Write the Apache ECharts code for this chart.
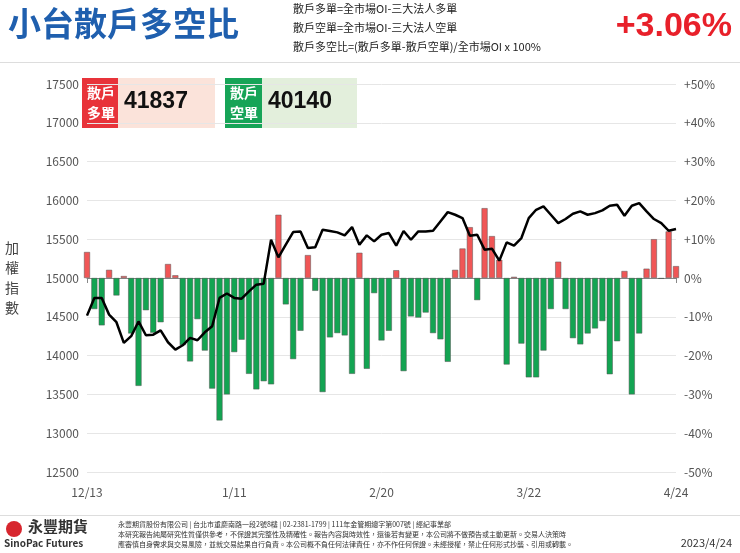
<!DOCTYPE html>
<html><head><meta charset="utf-8">
<script src="https://cdn.jsdelivr.net/npm/echarts@6/dist/echarts.min.js"></script>
<style>html,body{margin:0;padding:0;background:#fff}#c{width:740px;height:553px}</style>
</head><body><div id="c"></div>
<script>
const dates = ['12/13','12/14','12/15','12/16','12/19','12/20','12/21','12/22','12/23','12/26','12/27','12/28','12/29','12/30',
  '1/3','1/4','1/5','1/6','1/9','1/10','1/11','1/12','1/13','1/16','1/17','1/30','1/31',
  '2/1','2/2','2/3','2/6','2/7','2/8','2/9','2/10','2/13','2/14','2/15','2/16','2/17','2/20',
  '2/21','2/22','2/23','2/24','3/1','3/2','3/3','3/6','3/7','3/8','3/9','3/10','3/13','3/14','3/15','3/16','3/17','3/20','3/21','3/22',
  '3/23','3/24','3/27','3/28','3/29','3/30','3/31','4/6','4/7','4/10','4/11','4/12','4/13','4/14','4/17','4/18','4/19','4/20','4/21','4/24'];
const tickLabels = ['12/13','1/11','2/20','3/22','4/24'];
const ratio = [6.7,-8.0,-12.2,2.1,-4.5,0.5,-14.3,-27.8,-8.3,-14.1,-11.4,3.6,0.7,-17.3,-21.5,-10.6,-18.7,-28.5,-36.7,-30.0,
  -19.1,-15.9,-24.7,-28.7,-26.6,-27.4,16.3,-6.8,-20.9,-13.6,5.9,-3.3,-29.4,-15.3,-14.2,-14.8,-24.7,6.5,-23.4,
  -3.9,-16.1,-13.6,2.0,-24.0,-9.9,-10.2,-8.9,-14.2,-15.8,-21.6,2.1,7.6,13.1,-5.7,18.0,10.8,4.7,-22.3,0.3,-16.9,
  -25.6,-25.6,-18.7,-8.0,4.2,-8.0,-15.5,-17.1,-14.3,-13.0,-11.1,-24.8,-16.3,1.8,-30.0,-14.3,2.4,10.0,-0.2,12.0,3.06];
const index = [14515,14743,14743,14528,14430,14163,14250,14440,14262,14270,14326,14172,14078,14133,14228,14198,14300,14378,14743,14800,
  14743,14734,14828,14914,14927,15493,15266,15429,15592,15600,15386,15395,15622,15605,15588,15549,15656,15429,15549,
  15472,15558,15579,15416,15605,15493,15600,15600,15609,15729,15849,15815,15772,15545,15558,15365,15378,15223,15459,15416,15515,
  15772,15879,15922,15815,15708,15760,15828,15858,15815,15836,15871,15931,15944,15802,15931,15965,15858,15760,15708,15609,15631];
const longQty = '41837', shortQty = '40140', latest = '+3.06%';

const chart = echarts.init(document.getElementById('c'));
const F = 'Noto Sans CJK TC';
chart.setOption({
  animation: false,
  textStyle: { fontFamily: F },
  grid: { left: 87, right: 64, top: 84, bottom: 81 },
  xAxis: {
    type: 'category', data: dates, boundaryGap: false,
    axisLine: { lineStyle: { color: '#888' } },
    axisTick: { show: true, interval: i => tickLabels.includes(dates[i]), lineStyle: { color: '#888' } },
    axisLabel: { interval: (i, v) => tickLabels.includes(v), color: '#555', fontSize: 12, margin: 14 }
  },
  yAxis: [
    { type: 'value', min: 12500, max: 17500, interval: 500,
      name: '加\n權\n指\n數', nameLocation: 'middle', nameRotate: 0, nameGap: 68,
      nameTextStyle: { fontSize: 14, color: '#444', lineHeight: 20 },
      axisLabel: { color: '#555', fontSize: 12, formatter: v => String(v) },
      splitLine: { lineStyle: { color: '#e6e6e6' } } },
    { type: 'value', min: -50, max: 50, interval: 10,
      axisLabel: { color: '#555', fontSize: 12, formatter: v => (v > 0 ? '+' : '') + v + '%' },
      splitLine: { show: false } }
  ],
  series: [
    { type: 'bar', yAxisIndex: 1, barWidth: 6,
      data: ratio.map(v => ({ value: v, itemStyle: { color: v >= 0 ? '#f05656' : '#13a452', borderColor: '#555', borderWidth: 0.5 } })) },
    { type: 'line', yAxisIndex: 0, data: index, showSymbol: false,
      lineStyle: { color: '#000', width: 2.5 } }
  ],
  graphic: [
    { type: 'text', left: 8, top: 7, style: { text: '小台散戶多空比', fontSize: 33, fontWeight: 'bold', fill: '#1f5fae', fontFamily: F } },
    { type: 'text', left: 293, top: 3, style: { text: '散戶多單=全市場OI-三大法人多單', fontSize: 11, fill: '#222', fontFamily: F } },
    { type: 'text', left: 293, top: 22, style: { text: '散戶空單=全市場OI-三大法人空單', fontSize: 11, fill: '#222', fontFamily: F } },
    { type: 'text', left: 293, top: 41, style: { text: '散戶多空比=(散戶多單-散戶空單)/全市場OI x 100%', fontSize: 11, fill: '#222', fontFamily: F } },
    { type: 'text', right: 8, top: 10, style: { text: latest, fontSize: 34, fontWeight: 'bold', fill: '#e8202a', fontFamily: 'Liberation Sans' } },
    { type: 'rect', left: 0, top: 62, shape: { width: 740, height: 1 }, style: { fill: '#ddd' } },
    { type: 'rect', left: 82, top: 78, shape: { width: 36, height: 50 }, style: { fill: '#e8333a' } },
    { type: 'rect', left: 118, top: 78, shape: { width: 97, height: 50 }, style: { fill: '#fbe3da' } },
    { type: 'text', left: 87, top: 83, style: { text: '散戶\n多單', fontSize: 14, lineHeight: 20, fontWeight: 'bold', fill: '#fff', fontFamily: F } },
    { type: 'text', left: 124, top: 90, style: { text: longQty, fontSize: 23, fontWeight: 'bold', fill: '#111', fontFamily: 'Liberation Sans' } },
    { type: 'rect', left: 225, top: 78, shape: { width: 37, height: 50 }, style: { fill: '#16a457' } },
    { type: 'rect', left: 262, top: 78, shape: { width: 95, height: 50 }, style: { fill: '#e3efdc' } },
    { type: 'text', left: 230, top: 83, style: { text: '散戶\n空單', fontSize: 14, lineHeight: 20, fontWeight: 'bold', fill: '#fff', fontFamily: F } },
    { type: 'text', left: 268, top: 90, style: { text: shortQty, fontSize: 23, fontWeight: 'bold', fill: '#111', fontFamily: 'Liberation Sans' } },
    { type: 'rect', left: 0, top: 515, shape: { width: 740, height: 1 }, style: { fill: '#ddd' } },
    { type: 'circle', left: 6, top: 521, shape: { r: 8 }, style: { fill: '#d7262e' } },
    { type: 'text', left: 28, top: 519, style: { text: '永豐期貨', fontSize: 15, fontWeight: 'bold', fill: '#333', fontFamily: F } },
    { type: 'text', left: 4, top: 538, style: { text: 'SinoPac Futures', fontSize: 10, fontWeight: 'bold', fill: '#333', fontFamily: F } },
    { type: 'text', left: 118, top: 519, style: { text: '永豐期貨股份有限公司 | 台北市重慶南路一段2號8樓 | 02-2381-1799 | 111年金管期總字第007號 | 經紀事業部\n本研究報告純屬研究性質僅供參考，不保證其完整性及精確性。報告內容與時效性，還後若有變更，本公司將不做預告或主動更新。交易人決策時\n應審慎自身需求與交易風險，並就交易結果自行負責。本公司概不負任何法律責任，亦不作任何保證。未經授權，禁止任何形式抄襲、引用或轉載。', fontSize: 7, lineHeight: 10, fill: '#333', fontFamily: F } },
    { type: 'text', right: 8, top: 537, style: { text: '2023/4/24', fontSize: 11, fill: '#333', fontFamily: F } }
  ]
});
</script></body></html>
